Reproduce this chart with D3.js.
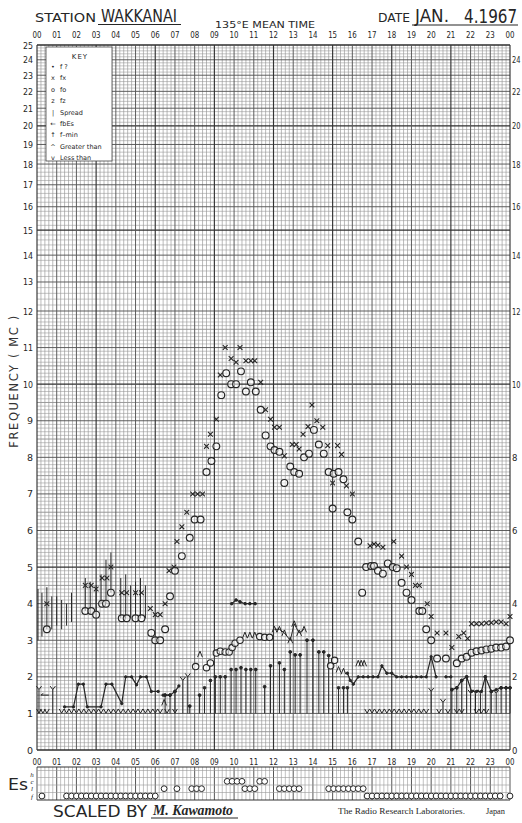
<!DOCTYPE html>
<html><head><meta charset="utf-8">
<script src="https://cdn.jsdelivr.net/npm/d3@7"></script>
<style>
html,body{margin:0;padding:0;background:#fff;}
svg{display:block;}
</style></head><body>
<svg id="chart" width="522" height="823"></svg>
<script>
// ---- data (hour in 135°E mean time, frequency in Mc/s) ----
const hourLabels = ["00","01","02","03","04","05","06","07","08","09","10","11","12","13","14","15","16","17","18","19","20","21","22","23","00"];
const freqTicksLeft = d3.range(0, 26);
const freqTicksRight = d3.range(0, 26, 2);

const foF2 = [[0.5,3.3],[2.45,3.8],[2.75,3.8],[3.0,3.7],[3.3,4.0],[3.5,4.0],[3.75,4.3],[4.3,3.6],[4.55,3.6],[5.0,3.6],[5.3,3.6],[5.8,3.2],[6.0,3.0],[6.25,3.0],[6.5,3.3],[6.75,4.2],[7.0,4.9],[7.35,5.3],[7.75,5.8],[8.0,6.3],[8.3,6.3],[8.6,7.6],[8.85,7.9],[9.1,8.3],[9.35,9.7],[9.6,10.3],[9.85,10.0],[10.1,10.0],[10.35,10.35],[10.6,9.8],[10.85,10.05],[11.1,9.8],[11.35,9.3],[11.6,8.6],[11.85,8.3],[12.05,8.2],[12.3,8.15],[12.55,7.3],[12.85,7.75],[13.05,7.6],[13.3,7.55],[13.55,8.0],[13.8,8.1],[14.05,8.75],[14.3,8.35],[14.55,8.1],[14.8,7.6],[15.05,7.55],[15.3,7.6],[15.55,7.4],[15.0,6.6],[15.75,6.5],[16.0,6.3],[16.3,5.7],[16.5,4.3],[16.7,5.0],[16.95,5.03],[17.1,5.03],[17.3,4.9],[17.55,4.82],[17.8,5.1],[18.05,5.0],[18.25,4.97],[18.5,4.57],[18.75,4.3],[19.0,4.1],[19.4,3.8],[19.55,3.8],[19.75,3.3],[20.0,3.0],[20.3,2.5],[20.75,2.5],[21.3,2.37],[21.55,2.5],[21.8,2.55],[22.05,2.66],[22.3,2.7],[22.55,2.72],[22.8,2.75],[23.05,2.77],[23.3,2.8],[23.55,2.8],[23.8,2.83],[24.0,3.0]];

const fxF2 = [[0.5,4.0],[2.45,4.5],[2.75,4.5],[3.0,4.4],[3.3,4.7],[3.55,4.7],[3.75,5.0],[4.3,4.3],[4.55,4.3],[5.0,4.3],[5.3,4.3],[5.75,3.87],[6.0,3.7],[6.25,3.7],[6.5,4.0],[6.7,4.9],[6.95,5.0],[7.1,5.7],[7.35,6.1],[7.6,6.5],[7.9,7.0],[8.15,7.0],[8.4,7.0],[8.6,8.3],[8.8,8.63],[9.1,9.04],[9.3,10.25],[9.55,11.0],[9.85,10.7],[10.1,10.6],[10.3,11.0],[10.6,10.64],[10.85,10.64],[11.05,10.64],[11.35,10.05],[11.6,9.3],[11.85,9.04],[12.05,8.82],[12.3,8.82],[12.55,8.04],[12.95,8.35],[13.15,8.35],[13.3,8.23],[13.5,8.63],[13.75,8.84],[13.95,9.43],[14.2,9.0],[14.5,8.82],[14.75,8.32],[15.0,7.3],[15.25,8.32],[15.45,8.08],[15.7,7.22],[16.0,7.0],[16.9,5.58],[17.1,5.63],[17.3,5.6],[17.55,5.54],[18.1,5.7],[18.5,5.3],[18.75,5.0],[19.0,4.8],[19.2,4.5],[19.4,4.5],[19.8,4.0],[20.0,3.65],[20.3,3.2],[20.75,3.2],[21.05,2.8],[21.4,3.1],[21.65,3.2],[21.85,3.05],[22.05,3.45],[22.3,3.45],[22.55,3.45],[22.8,3.47],[23.05,3.48],[23.3,3.5],[23.55,3.5],[23.8,3.45],[24.0,3.65]];

// spread F: [hour, lower, upper]
const spreadF = [[0.05,3.0,4.4],[0.25,3.1,4.3],[0.5,3.3,4.45],[0.75,3.3,4.2],[1.0,3.4,4.2],[1.25,3.3,4.1],[1.5,3.4,4.0],[1.75,3.5,4.3],[2.45,3.8,4.7],[2.7,3.7,4.6],[3.0,3.6,4.5],[3.25,4.0,4.8],[3.5,4.0,5.2],[3.75,4.3,5.4],[4.25,3.6,4.7],[4.5,3.6,4.8],[4.75,3.6,4.5],[5.0,3.6,4.6],[5.25,3.6,4.7],[5.5,3.6,4.5]];

// foE / lower layer critical frequencies
const foE = [[8.05,2.28],[8.6,2.25],[8.8,2.38],[9.1,2.65],[9.3,2.7],[9.55,2.68],[9.75,2.68],[9.9,2.8],[10.05,2.92],[10.3,3.0],[11.3,3.1],[11.55,3.08],[11.8,3.08],[14.9,2.3],[15.1,2.45]];
// greater-than marks
const greaterThan = [[6.45,1.3],[8.27,2.62],[10.55,3.14],[10.8,3.14],[11.05,3.14],[15.3,2.2],[15.55,2.15],[16.3,2.37],[16.45,2.37],[16.6,2.37]];
// F1 trace around noon, drawn as a connected line of greater-than marks
const f1Trace = [[12.05,3.3],[12.3,3.3],[12.55,3.2],[12.85,3.0],[13.05,3.45],[13.3,3.2],[13.55,3.3]];
// short trace near 4 Mc
const foF1 = [[9.88,4.0],[10.1,4.1],[10.3,4.05],[10.56,4.0],[10.8,4.0],[11.07,4.0]];

// f-min readings shown as arrows from the 1 Mc line
const fminArrows = [[7.75,1.2],[8.25,1.5],[8.5,1.7],[8.8,1.9],[9.05,2.0],[9.3,2.0],[9.55,2.0],[9.85,2.2],[10.1,2.2],[10.35,2.25],[10.6,2.2],[10.85,2.2],[11.1,2.2],[11.55,1.73],[11.85,2.3],[12.3,2.38],[12.55,2.2],[12.85,2.68],[13.1,2.6],[13.35,2.6],[13.7,3.0],[14.0,3.0],[14.3,2.68],[14.55,2.68],[14.8,2.58],[15.3,1.7],[15.55,1.7],[15.75,1.7],[21.05,1.65],[21.3,1.7],[21.55,1.9],[21.8,2.0],[22.75,2.0],[23.05,1.6],[23.55,1.7],[23.8,1.7],[24.0,1.7],[6.5,1.5],[6.75,1.5],[7.0,1.6]];

// night f-min traces (connected)
const fminNight1 = [[1.4,1.18],[1.85,1.18],[2.1,1.8],[2.35,1.8],[2.55,1.18],[3.25,1.18],[3.5,1.8],[3.8,1.8],[4.3,1.27],[4.5,2.0],[4.8,2.0],[5.05,1.78],[5.25,2.0],[5.55,2.0],[5.8,1.6],[6.15,1.6]];
const fminNight2 = [[6.4,1.5],[6.75,1.5],[7.0,1.6],[7.2,1.75]];
const fminNight3 = [[15.75,2.1],[15.9,1.9],[16.05,1.8],[16.3,2.0],[16.55,2.0],[16.8,2.0],[17.05,2.0],[17.3,2.0],[17.5,2.3],[17.75,2.1],[18.0,2.1],[18.25,2.0],[18.5,2.0],[18.75,2.0],[19.0,2.0],[19.25,2.0],[19.5,2.0],[19.75,2.0],[20.0,2.55],[20.25,2.0]];
const fminNight4 = [[20.75,2.0],[21.0,2.0]];
const fminNight5 = [[21.05,1.65],[21.3,1.7],[21.55,1.9],[21.8,2.0],[22.05,1.6],[22.3,1.6],[22.55,1.6],[22.75,2.0],[23.05,1.6],[23.3,1.65],[23.55,1.7],[23.8,1.7],[24.0,1.7]];

// fbEs marks
const fbEs = [[0.4,1.5],[6.6,1.5]];
// f-min "less than" with stem
const fminLess = [[0.1,1.65],[0.8,1.65],[7.4,1.9],[7.65,2.0],[20.0,1.6],[20.6,1.3],[22.0,1.55],[22.25,1.55],[22.5,1.55],[23.3,1.55]];
// "less than" marks along the 1 Mc line
const lessThanHours = [0.1,0.3,0.5,1.25,1.5,1.75,2.0,2.25,2.5,2.75,3.0,3.25,3.5,3.75,4.0,4.25,4.5,4.75,5.0,5.25,5.5,5.75,6.0,6.25,6.6,7.0,16.75,17.0,17.25,17.5,17.75,18.0,18.25,18.5,18.75,19.0,19.25,19.5,19.75,20.4,20.85,21.3,21.55,22.3,22.55,22.8];

// sporadic E types
const esRows = ["h","c","l","f"];
const esObs = [[0.25,"f"],[1.5,"f"],[1.75,"f"],[2.0,"f"],[2.25,"f"],[2.5,"f"],[2.75,"f"],[3.0,"f"],[3.25,"f"],[3.5,"f"],[3.75,"f"],[4.0,"f"],[4.25,"f"],[4.5,"f"],[4.75,"f"],[5.0,"f"],[5.25,"f"],[5.5,"f"],[5.75,"f"],[6.0,"f"],[6.45,"l"],[7.1,"l"],[7.85,"l"],[8.1,"l"],[8.35,"l"],[9.65,"c"],[9.9,"c"],[10.15,"c"],[10.4,"c"],[10.55,"l"],[10.8,"l"],[11.05,"l"],[11.3,"c"],[11.55,"c"],[12.3,"l"],[12.55,"l"],[12.8,"l"],[13.05,"l"],[13.3,"l"],[14.8,"l"],[15.05,"l"],[15.3,"l"],[15.55,"l"],[15.8,"l"],[16.05,"l"],[16.3,"l"],[16.55,"l"],[16.75,"f"],[17.0,"f"],[17.25,"f"],[17.5,"f"],[17.75,"f"],[18.0,"f"],[18.25,"f"],[18.5,"f"],[18.75,"f"],[19.0,"f"],[19.25,"f"],[19.5,"f"],[19.75,"f"],[20.0,"f"],[20.25,"f"],[20.5,"f"],[20.75,"f"],[21.0,"f"],[21.25,"f"],[21.5,"f"],[21.75,"f"],[22.0,"f"],[22.25,"f"],[22.5,"f"],[22.75,"f"],[23.0,"f"],[23.25,"f"],[23.5,"f"],[24.0,"f"]];

const keyItems = [["\u2022","f ?"],["x","fx"],["o","fo"],["z","fz"],["|","Spread"],["\u2190","fbEs"],["\u2191","f\u2013min"],["^","Greater than"],["v","Less than"]];

// ---- scales ----
const svg = d3.select("#chart");
const x = d3.scaleLinear().domain([0, 24]).range([37, 510]);
// linear below 12 Mc, logarithmic above
const yLin = d3.scaleLinear().domain([0, 12]).range([750, 311]);
const yLog = d3.scaleLog().domain([12, 25]).range([311, 45]);
const y = f => f <= 12 ? yLin(f) : yLog(f);
const esY = d3.scalePoint().domain(esRows).range([774, 796]);

const ink = "#262626";
const sans = "'DejaVu Sans','Liberation Sans',sans-serif";
const serif = "'Liberation Serif','DejaVu Serif',serif";

// fit a text to a given width
function fitText(g, str, x0, y0, size, width, anchor) {
  return g.append("text").attr("x", x0).attr("y", y0).attr("font-size", size)
    .attr("text-anchor", anchor || "start")
    .attr("textLength", width).attr("lengthAdjust", "spacingAndGlyphs").text(str);
}

// ---- grid ----
const grid = svg.append("g");
function hline(g, f, stroke, w) {
  g.append("line").attr("x1", x(0)).attr("x2", x(24)).attr("y1", y(f)).attr("y2", y(f))
    .attr("stroke", stroke).attr("stroke-width", w);
}
const fineLin = d3.range(1, 120).map(i => i / 10);
const fineLog = d3.range(61, 125).map(i => i / 5);
fineLin.concat(fineLog).forEach(f => {
  const isInt = Math.abs(f - Math.round(f)) < 1e-6;
  const half = Math.abs(f * 2 - Math.round(f * 2)) < 1e-6;
  if (isInt) return;
  hline(grid, f, half ? "#777" : "#9c9c9c", half ? 0.75 : 0.6);
});
d3.range(0, 24 * 5 + 1).forEach(i => {
  const h = i / 5;
  if (i % 5 === 0) return;
  grid.append("line").attr("x1", x(h)).attr("x2", x(h)).attr("y1", y(25)).attr("y2", y(0))
    .attr("stroke", "#959595").attr("stroke-width", 0.65);
});
d3.range(0, 26).forEach(f => {
  const major = f % 5 === 0;
  hline(grid, f, major ? "#2e2e2e" : "#555", major ? 1.3 : 0.95);
});
d3.range(0, 25).forEach(h => {
  const major = h % 3 === 0;
  grid.append("line").attr("x1", x(h)).attr("x2", x(h)).attr("y1", y(25)).attr("y2", y(0))
    .attr("stroke", major ? "#333" : "#555").attr("stroke-width", major ? 1.15 : 0.95);
});

// ---- Es strip grid ----
const esTop = 767, esBot = 800;
const esg = svg.append("g");
d3.range(0, 24 * 5 + 1).forEach(i => {
  const h = i / 5;
  const hour = i % 5 === 0;
  esg.append("line").attr("x1", x(h)).attr("x2", x(h)).attr("y1", esTop).attr("y2", esBot)
    .attr("stroke", hour ? "#444" : "#999").attr("stroke-width", hour ? 0.9 : 0.6);
});
[esTop, 770.5, 777.5, 785, 792.5, esBot].forEach((yy, i, a) => {
  const edge = i === 0 || i === a.length - 1;
  esg.append("line").attr("x1", x(0)).attr("x2", x(24)).attr("y1", yy).attr("y2", yy)
    .attr("stroke", edge ? "#333" : "#999").attr("stroke-width", edge ? 1 : 0.6);
});

// ---- axis labels ----
const labels = svg.append("g").attr("font-family", sans).attr("fill", ink);
freqTicksLeft.forEach(f => {
  const lab = labels.append("text").attr("x", 33).attr("y", y(f) + 3.5).attr("text-anchor", "end")
    .attr("font-size", 9.5).text(f);
  if (f >= 10) lab.attr("textLength", 10).attr("lengthAdjust", "spacingAndGlyphs");
});
freqTicksRight.forEach(f => {
  const lab = labels.append("text").attr("x", 512).attr("y", y(f) + 3.5).attr("text-anchor", "start")
    .attr("font-size", 8.5).text(f);
  if (f >= 10) lab.attr("textLength", 8.5).attr("lengthAdjust", "spacingAndGlyphs");
});
hourLabels.forEach((t, i) => {
  fitText(labels, t, x(i), 37.5, 8.5, 9, "middle");
  fitText(labels, t, x(i), 765, 8.5, 9, "middle");
});

// ---- key ----
const key = svg.append("g").attr("font-family", sans).attr("fill", ink);
key.append("rect").attr("x", 46).attr("y", 47).attr("width", 66).attr("height", 114)
  .attr("fill", "#fff").attr("stroke", "#444").attr("stroke-width", 0.8);
key.append("text").attr("x", 80).attr("y", 59).attr("text-anchor", "middle").attr("font-size", 7)
  .attr("letter-spacing", 1).text("KEY");
keyItems.forEach((k, i) => {
  const yy = 69 + i * 11.4;
  key.append("text").attr("x", 53).attr("y", yy).attr("text-anchor", "middle").attr("font-size", 6.5).text(k[0]);
  key.append("text").attr("x", 60).attr("y", yy).attr("font-size", 6.5).text(k[1]);
});

// ---- marks ----
const marks = svg.append("g").attr("fill", "none").attr("stroke", ink).attr("stroke-width", 1);
const P = d => [x(d[0]), y(d[1])];

// spread
marks.selectAll(".spread").data(spreadF).join("line")
  .attr("x1", d => x(d[0])).attr("x2", d => x(d[0])).attr("y1", d => y(d[1])).attr("y2", d => y(d[2]))
  .attr("stroke-width", 1);

// f-min arrows from 1 Mc
marks.selectAll(".arrow").data(fminArrows).join("line")
  .attr("x1", d => x(d[0])).attr("x2", d => x(d[0])).attr("y1", y(1)).attr("y2", d => y(d[1]));
marks.selectAll(".arrowHead").data(fminArrows).join("circle")
  .attr("cx", d => x(d[0])).attr("cy", d => y(d[1])).attr("r", 1.4).attr("fill", ink);

// less-than with stem
marks.selectAll(".yless").data(fminLess).join("path")
  .attr("d", d => { const [cx, cy] = P(d); return `M${cx - 2.6},${cy - 3.5}L${cx},${cy}L${cx + 2.6},${cy - 3.5}M${cx},${cy}L${cx},${y(1)}`; });

// night f-min traces
const line = d3.line().x(d => x(d[0])).y(d => y(d[1]));
[fminNight1, fminNight2, fminNight3, fminNight4, fminNight5].forEach(tr => {
  marks.append("path").attr("d", line(tr)).attr("stroke-width", 1.2);
  marks.selectAll(null).data(tr).join("circle").attr("cx", d => x(d[0])).attr("cy", d => y(d[1]))
    .attr("r", 1.2).attr("fill", ink);
});

// fbEs
marks.selectAll(".fbes").data(fbEs).join("path")
  .attr("d", d => { const [cx, cy] = P(d); return `M${cx - 4},${cy}L${cx + 4},${cy}M${cx - 4},${cy}L${cx - 1.5},${cy - 1.8}`; });

// less-than marks along 1 Mc
marks.selectAll(".less").data(lessThanHours).join("path")
  .attr("d", h => { const cx = x(h), cy = y(1.04); return `M${cx - 2.4},${cy - 3}L${cx},${cy + 1.2}L${cx + 2.4},${cy - 3}`; });

// F1 trace & short upper trace
marks.append("path").attr("d", line(f1Trace)).attr("stroke-width", 1);
marks.append("path").attr("d", line(foF1)).attr("stroke-width", 1.1);
marks.selectAll(".f1a").data(f1Trace.concat(greaterThan)).join("path")
  .attr("d", d => { const [cx, cy] = P(d); return `M${cx - 2.4},${cy + 3}L${cx},${cy - 3}L${cx + 2.4},${cy + 3}`; });
marks.selectAll(".f1dot").data(foF1).join("circle").attr("cx", d => x(d[0])).attr("cy", d => y(d[1])).attr("r", 1.3).attr("fill", ink);

// foE circles
marks.selectAll(".foe").data(foE).join("circle")
  .attr("cx", d => x(d[0])).attr("cy", d => y(d[1])).attr("r", 3.2).attr("fill", "#fff").attr("fill-opacity", 0.6)
  .attr("stroke-width", 1.1);

// fx crosses
marks.selectAll(".fx").data(fxF2).join("path")
  .attr("d", d => { const [cx, cy] = P(d); return `M${cx - 2.4},${cy - 2.4}L${cx + 2.4},${cy + 2.4}M${cx + 2.4},${cy - 2.4}L${cx - 2.4},${cy + 2.4}`; })
  .attr("stroke-width", 1.1);

// fo circles
marks.selectAll(".fo").data(foF2).join("circle")
  .attr("cx", d => x(d[0])).attr("cy", d => y(d[1])).attr("r", 3.4).attr("fill", "#fff").attr("fill-opacity", 0.55)
  .attr("stroke-width", 1.15);

// Es observations
marks.selectAll(".es").data(esObs).join("circle")
  .attr("cx", d => x(d[0])).attr("cy", d => esY(d[1])).attr("r", 2.9).attr("fill", "#fff").attr("stroke-width", 1);

// ---- titles and texts ----
const t = svg.append("g").attr("fill", ink).attr("font-family", sans);
fitText(t, "STATION", 35, 22, 13, 61);
fitText(t, "WAKKANAI", 101, 21.5, 18.5, 76);
t.append("line").attr("x1", 98).attr("x2", 181).attr("y1", 24.5).attr("y2", 24.5).attr("stroke", ink).attr("stroke-width", 1.1);
fitText(t, "135\u00b0E  MEAN  TIME", 215, 27.5, 9.5, 100);
fitText(t, "DATE", 378, 22, 13, 32);
fitText(t, "JAN.", 415, 21.5, 17.5, 34);
// the date digits are drawn narrower by a horizontal scale
t.append("text").attr("transform", "translate(464,23) scale(0.8,1)")
  .attr("font-size", 19).text("4.1967");
t.append("line").attr("x1", 412).attr("x2", 518).attr("y1", 25).attr("y2", 25).attr("stroke", ink).attr("stroke-width", 1.1);

t.append("text").attr("transform", "translate(18,381) rotate(-90)").attr("text-anchor", "middle")
  .attr("font-size", 11.5).attr("fill", "#333").attr("letter-spacing", 1.6).text("FREQUENCY ( MC )");

fitText(t, "Es", 8, 790, 15, 20);
esRows.forEach(r => {
  t.append("text").attr("x", 32).attr("y", esY(r) + 2.5).attr("text-anchor", "middle")
    .attr("font-size", 7).attr("font-style", "italic").attr("font-family", serif).text(r);
});

fitText(t, "SCALED  BY", 53, 817, 16, 94);
fitText(t, "M. Kawamoto", 153, 815, 15, 80).attr("font-style", "italic").attr("font-family", serif).attr("font-weight", "bold");
t.append("line").attr("x1", 151).attr("x2", 238).attr("y1", 818).attr("y2", 818).attr("stroke", ink).attr("stroke-width", 1);
fitText(t, "The Radio Research Laboratories.", 338, 814, 7.5, 127).attr("font-family", serif);
fitText(t, "Japan", 486, 814, 7.5, 19).attr("font-family", serif);
</script>
</body></html>
